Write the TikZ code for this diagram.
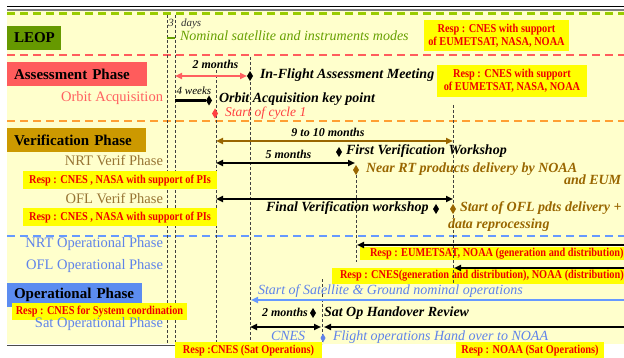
\documentclass[tikz,border=0pt]{standalone}
\usepackage{fontspec}
\setmainfont{Liberation Serif}
\newfontfamily\respfont[FakeStretch=0.86]{Liberation Serif}
\usetikzlibrary{arrows.meta,shapes.geometric}

\definecolor{cream}{HTML}{FFFFCC}
\definecolor{leopgreen}{HTML}{669900}
\definecolor{limedash}{HTML}{99CC00}
\definecolor{leoptext}{HTML}{66A000}
\definecolor{assessred}{HTML}{FF5C5C}
\definecolor{salmon}{HTML}{FF6060}
\definecolor{cyclered}{HTML}{FF4040}
\definecolor{verifgold}{HTML}{CC9900}
\definecolor{orangedash}{HTML}{FF9F33}
\definecolor{ochre}{HTML}{996600}
\definecolor{verifsub}{HTML}{977433}
\definecolor{opblue}{HTML}{5C8CF0}
\definecolor{skyblue}{HTML}{6699FF}
\definecolor{optext}{HTML}{5F83EA}
\definecolor{respyellow}{HTML}{FFFF00}
\definecolor{respred}{HTML}{EE0000}
\definecolor{framegray}{HTML}{7F7F7F}

\tikzset{
  x=1pt, y=-1pt,
  every node/.style={inner sep=0pt, outer sep=0pt},
  phasebox/.style={anchor=west, align=left, inner xsep=7pt, minimum height=24pt,
    font=\fontsize{15}{17}\selectfont\bfseries},
  sublabel/.style={anchor=mid east, font=\fontsize{14.5}{16}\selectfont},
  evtext/.style={anchor=mid west, font=\fontsize{14}{16}\selectfont\bfseries\itshape},
  notetext/.style={anchor=mid west, font=\fontsize{14}{16}\selectfont\itshape},
  spantext/.style={anchor=mid, font=\fontsize{12}{14}\selectfont\bfseries\itshape},
  smalltext/.style={font=\fontsize{11}{13}\selectfont\itshape},
  respbox/.style={fill=respyellow, text=respred, align=center,
    font=\respfont\bfseries\fontsize{12}{13}\selectfont},
  sepline/.style={line width=#1, dash pattern=on 8pt off 5pt},
  guideline/.style={line width=0.8pt, draw=black!75, dash pattern=on 3pt off 2pt},
  dmd/.style={diamond, fill=black, minimum width=6pt, minimum height=10pt},
  dbl/.style={arrows={Triangle[length=7pt,width=6pt]-Triangle[length=7pt,width=6pt]}},
  tipend/.style={arrows={-Triangle[length=7pt,width=6pt]}}
}

\begin{document}
\begin{tikzpicture}
\useasboundingbox (0,0) rectangle (624,358);

% page frame and background
\fill[cream] (7,10) rectangle (624,344);
\draw[black, line width=0.8pt] (7,6) -- (624,6);
\draw[framegray, line width=1.5pt] (7,10) -- (624,10);
\draw[black!70, line width=1pt] (7,345.5) -- (175,345.5);

% phase separators
\draw[limedash, sepline=3pt] (7,13.5) -- (624,13.5);
\draw[assessred, sepline=2.5pt] (7,55) -- (624,55);
\draw[orangedash, sepline=2pt] (7,121) -- (624,121);
\draw[skyblue, sepline=2pt] (7,236) -- (624,236);

% operational responsibility boxes lying under the milestone guides
\node[respbox, anchor=west, inner xsep=10pt, minimum height=13pt] (rnrtop) at (360,253.5)
  {Resp : EUMETSAT, NOAA (generation and distribution)};
\node[respbox, anchor=west, inner xsep=8pt, minimum height=16pt] (rofl) at (332,276)
  {Resp : CNES(generation and distribution), NOAA (distribution)};

% milestone guides
\draw[guideline] (167,15) -- (167,344);
\draw[guideline] (175,15) -- (175,344);
\draw[guideline] (216,70) -- (216,344);
\draw[guideline] (250,57) -- (250,344);
\draw[guideline] (356,170) -- (356,262);
\draw[guideline] (453,105) -- (453,284);
\draw[guideline] (322,279) -- (322,344);

% ---------------- LEOP
\node[phasebox, fill=leopgreen, text width=40pt] (leop) at (7,38) {LEOP};
\node[smalltext, anchor=mid, text=black!80] (leopd) at (171,24) {3};
\node[smalltext, anchor=mid west, text=black!80] (leopdays) at (181,24) {days};
\coordinate (leop0) at (167,38);
\coordinate (leop1) at (175,38);
\draw[leoptext, line width=2.5pt] (leop0) -- (leop1);
\node[notetext, text=leoptext] (leopnote) at (180,38) {Nominal satellite and instruments modes};
\node[respbox, minimum width=145pt, minimum height=31pt] (rleop) at (496.5,35.5)
  {Resp : CNES with support\\of EUMETSAT, NASA, NOAA};

% ---------------- Assessment
\node[phasebox, fill=assessred, text width=126pt] (assess) at (7,74.5) {Assessment Phase};
\node[sublabel, text=salmon] (orbitlbl) at (163,99) {Orbit Acquisition};
\node[spantext] (ifaspan) at (215.5,66) {2 months};
\coordinate (ifa0) at (175,76);
\node[dmd] (ifa) at (250,76) {};
\draw[salmon, line width=2pt, dbl] (ifa0) -- (ifa.west);
\node[evtext] (ifatext) at (260,76) {In-Flight Assessment Meeting};
\node[respbox, minimum width=150pt, minimum height=32pt] (rassess) at (512,81)
  {Resp : CNES with support\\of EUMETSAT, NASA, NOAA};

\coordinate (oa0) at (175,100.5);
\node[dmd] (oakp) at (209,100.5) {};
\draw[line width=2.5pt] (oa0) -- (oakp.west);
\node[smalltext, anchor=mid] (oaspan) at (194,92) {4 weeks};
\node[evtext] (oatext) at (219,100) {Orbit Acquisition key point};
\node[dmd, fill=cyclered] (cyc) at (215,113.5) {};
\node[notetext, text=cyclered, font=\fontsize{13.5}{15}\selectfont\itshape] (cyctext) at (225,114) {Start of cycle 1};

% ---------------- Verification
\node[phasebox, fill=verifgold, text width=125pt] (verif) at (7,140) {Verification Phase};
\node[sublabel, text=verifsub] (nrtlbl) at (163,163) {NRT Verif Phase};
\node[sublabel, text=verifsub] (ofllbl) at (163,201) {OFL Verif Phase};
\node[respbox, minimum width=194pt, minimum height=18pt] (rnrt) at (120,180.5)
  {Resp : CNES , NASA with support of PIs};
\node[respbox, minimum width=194pt, minimum height=18pt] (rofv) at (120,217.5)
  {Resp : CNES , NASA with support of PIs};

\coordinate (vp0) at (216,141);
\coordinate (vp1) at (453,141);
\draw[ochre, line width=2.5pt, dbl] (vp0) -- (vp1);
\node[spantext] (vpspan) at (328,134) {9 to 10 months};
\node[dmd] (fvw) at (339,152) {};
\node[evtext] (fvwtext) at (346,152) {First Verification Workshop};

\coordinate (nrt0) at (216,163);
\coordinate (nrt1) at (355,163);
\draw[line width=2pt, dbl] (nrt0) -- (nrt1);
\node[spantext] (nrtspan) at (288.5,156) {5 months};
\node[dmd, fill=ochre] (nrtd) at (356,170) {};
\node[evtext, text=ochre] (nrttext) at (366,170) {Near RT products delivery by NOAA};
\node[evtext, text=ochre] (nrttext2) at (564,182) {and EUM};

\coordinate (ofl0) at (216,199);
\coordinate (ofl1) at (453,199);
\draw[line width=2pt, dbl] (ofl0) -- (ofl1);
\node[evtext] (fvw2text) at (266,209.5) {Final Verification workshop};
\node[dmd] (fvw2) at (436,209) {};
\node[dmd, fill=ochre] (ofld) at (453,209) {};
\node[evtext, text=ochre] (ofltext) at (460,209.5) {Start of OFL pdts delivery +};
\node[evtext, text=ochre] (ofltext2) at (448,226) {data reprocessing};

% ---------------- Operational
\node[sublabel, text=optext] (nrtoplbl) at (163,245) {NRT Operational Phase};
\node[sublabel, text=optext] (ofloplbl) at (163,267) {OFL Operational Phase};
\node[phasebox, fill=opblue, text width=121pt] (oper) at (7,295) {Operational Phase};
\node[respbox, minimum width=175pt, minimum height=17pt] (rsys) at (99.5,311.5)
  {Resp : CNES for System coordination};
\node[sublabel, text=optext] (satlbl) at (163,325) {Sat Operational Phase};

\coordinate (nrtop1) at (626,245);
\coordinate (nrtop0) at (357,245);
\draw[line width=2.5pt, tipend] (nrtop1) -- (nrtop0);
\coordinate (oflop1) at (626,268);
\coordinate (oflop0) at (454,268);
\draw[line width=2.5pt, tipend] (oflop1) -- (oflop0);

\coordinate (nom1) at (626,300);
\coordinate (nom0) at (251,300);
\draw[skyblue, line width=2.5pt, tipend] (nom1) -- (nom0);
\node[notetext, text=optext] (nomtext) at (258,292) {Start of Satellite \& Ground nominal operations};

\node[spantext] (sohspan) at (285,314.5) {2 months};
\node[dmd] (soh) at (313,313) {};
\node[evtext] (sohtext) at (324,314) {Sat Op Handover Review};
\coordinate (sat0) at (250,327);
\coordinate (sat1) at (321,327);
\draw[line width=2pt, dbl] (sat0) -- (sat1);
\coordinate (noaa1) at (626,327);
\coordinate (noaa0) at (324,327);
\draw[line width=2.5pt, tipend] (noaa1) -- (noaa0);

\node[notetext, text=optext] (cnes) at (271,338) {CNES};
\node[dmd, fill=optext, minimum width=5pt, minimum height=9pt] (handover) at (323,338) {};
\node[notetext, text=optext] (hotext) at (333,338) {Flight operations Hand over to NOAA};

\node[respbox, minimum width=147pt, minimum height=17pt] (rcnesop) at (248.5,350.5)
  {Resp :CNES (Sat Operations)};
\node[respbox, minimum width=148pt, minimum height=17pt] (rnoaaop) at (530,350.5)
  {Resp : NOAA (Sat Operations)};
\end{tikzpicture}
\end{document}
